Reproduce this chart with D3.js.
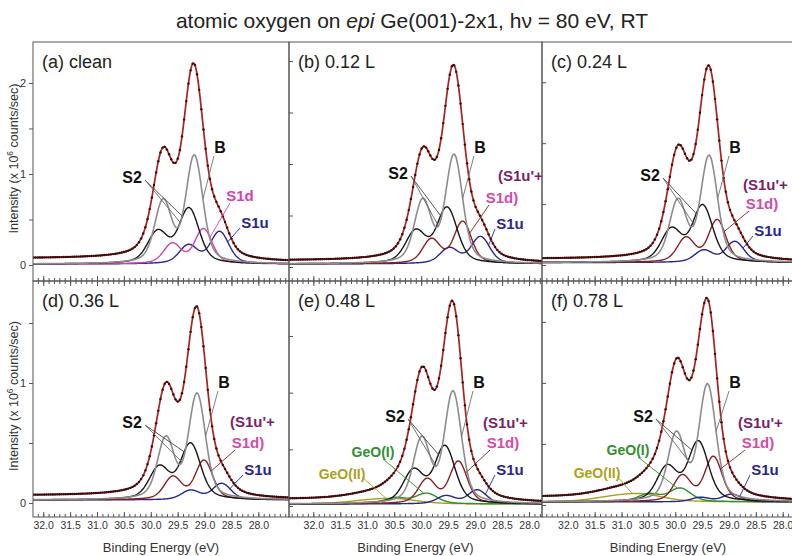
<!DOCTYPE html>
<html>
<head>
<meta charset="utf-8">
<script src="https://cdn.jsdelivr.net/npm/d3@7/dist/d3.min.js"></script>
<style>
  body { margin: 0; background: #fff; }
  svg text { font-family: "Liberation Sans", Arial, sans-serif; }
</style>
</head>
<body>
<svg id="chart" width="792" height="556"></svg>
<script>
// Panel titles (oxygen exposure)
const panelNames = ['(a) clean', '(b) 0.12 L', '(c) 0.24 L', '(d) 0.36 L', '(e) 0.48 L', '(f) 0.78 L'];

// Intensity range of each panel (each panel keeps its own units)
const yMin = [-0.176, -0.272, -0.262, -0.117, -0.194, -0.197];
const yMax = [2.45, 4.37, 3.66, 1.85, 3.97, 3.67];
const yTickStep = [0.5, 1, 1, 0.5, 1, 1];
const yLabelled = [true, false, false, true, false, false];

// Binding energy range of each column (reversed axis)
const beLeft = [32.19, 32.45, 32.48];
const beRight = [27.43, 27.76, 27.79];
const beTicks = [32.0, 31.5, 31.0, 30.5, 30.0, 29.5, 29.0, 28.5, 28.0];

// Fit components: Ge 3d5/2 position (eV) and height, one entry per panel
const bulkPos = [29.19, 29.39, 29.37, 29.14, 29.41, 29.40];
const bulkHeight = [1.17, 2.08, 1.72, 0.87, 1.95, 1.89];
const s2Pos = [29.29, 29.52, 29.49, 29.26, 29.56, 29.57];
const s2Height = [0.6, 1.07, 0.92, 0.46, 1.0, 0.97];
const s1dPos = [29.02, 29.23, 29.22, 29.01, 29.31, 29.29];
const s1dHeight = [0.38, 0.81, 0.69, 0.325, 0.74, 0.73];
const s1dNames = ['S1d', "(S1u'+S1d)", "(S1u'+S1d)", "(S1u'+S1d)", "(S1u'+S1d)", "(S1u'+S1d)"];
const s1uPos = [28.72, 28.90, 28.89, 28.68, 28.96, 28.95];
const s1uHeight = [0.35, 0.52, 0.34, 0.135, 0.245, 0.125];
const geo1Pos = [null, null, null, null, 29.90, 29.91];
const geo1Height = [0, 0, 0, 0, 0.185, 0.22];
const geo2Pos = [null, null, null, null, 30.45, 30.60];
const geo2Height = [0, 0, 0, 0, 0.08, 0.11];

// Line widths (FWHM, eV) of each component and the 3d spin-orbit doublet
const fwhm = { B: 0.35, S2: 0.42, S1d: 0.36, S1u: 0.38, GeO1: 0.45, GeO2: 0.9 };
const soSplit = 0.58;
const soRatio = 0.57;
const lorentzMix = 0.33;

// Background levels: component offset, high-BE and low-BE ends of the step
const baseLevel = [0.01, 0.06, 0.04, 0.025, 0.035, 0.05];
const bgLeft = [0.072, 0.125, 0.1, 0.062, 0.115, 0.125];
const bgRight = [0.03, 0.07, 0.05, 0.03, 0.05, 0.06];

// Layout
const colX = [33, 289, 542], colW = [256, 253, 252];
const rowY = [42, 281], rowH = [239, 236];

// label positions inside a panel (offset from panel top-left)
const labelB = [[187, 105], [191, 105], [193, 105], [191, 101], [190, 101], [193, 101]];
const labelS2 = [[99, 135], [109, 131], [108, 133], [99, 141], [106, 135], [101, 135]];
const labelOpen = [null, [209, 133], [201, 142], [197, 140], [194, 141], [196, 141]];
const labelS1d = [[207, 153], [213, 155], [220, 161], [215, 161], [214, 161], [216, 161]];
const labelS1u = [[222, 180], [221, 181], [226, 188], [225, 188], [221, 188], [223, 188]];
const labelGeo1 = [null, null, null, null, [84, 170], [86, 168]];
const labelGeo2 = [null, null, null, null, [53, 192], [55, 191]];

const colors = {
    total: '#a8231c', dots: '#3a0a0a', B: '#8c8c8c', S2: '#151515',
    S1dPink: '#d63fae', S1dBrown: '#8a1f1f', S1u: '#26268f',
    GeO1: '#2f8f2f', GeO2: '#ad9f1c', axis: '#555', text: '#333'
};

const svg = d3.select('#chart');

function lineShape(e, c, w) {
    const dg = (e - c) / w;
    const dl = (e - c) / (w * 1.3);
    return (1 - lorentzMix) * Math.exp(-4 * Math.LN2 * dg * dg) + lorentzMix / (1 + 4 * dl * dl);
}

function doublet(e, c) {
    return c.h * (lineShape(e, c.pos, c.w) + soRatio * lineShape(e, c.pos + soSplit, c.w));
}

// Title
const title = svg.append('text')
    .attr('x', 412).attr('y', 28)
    .attr('text-anchor', 'middle')
    .attr('font-size', 21)
    .attr('fill', '#222');
title.append('tspan').text('atomic oxygen on ');
title.append('tspan').attr('font-style', 'italic').text('epi');
title.append('tspan').text(' Ge(001)-2x1, h\u03bd = 80 eV, RT');

panelNames.forEach((name, i) => {
    const col = i % 3, row = Math.floor(i / 3);
    const x0 = colX[col], y0 = rowY[row], w = colW[col], h = rowH[row];

    const x = d3.scaleLinear().domain([beLeft[col], beRight[col]]).range([x0, x0 + w]);
    const y = d3.scaleLinear().domain([yMin[i], yMax[i]]).range([y0 + h, y0]);

    const clipId = 'clip' + i;
    svg.append('clipPath').attr('id', clipId)
        .append('rect').attr('x', x0).attr('y', y0).attr('width', w).attr('height', h);

    const g = svg.append('g');

    // Components of this panel
    const comps = [
        { key: 'GeO2', pos: geo2Pos[i], h: geo2Height[i], w: fwhm.GeO2, color: colors.GeO2 },
        { key: 'GeO1', pos: geo1Pos[i], h: geo1Height[i], w: fwhm.GeO1, color: colors.GeO1 },
        { key: 'S1u', pos: s1uPos[i], h: s1uHeight[i], w: fwhm.S1u, color: colors.S1u },
        { key: 'S1d', pos: s1dPos[i], h: s1dHeight[i], w: fwhm.S1d, color: i === 0 ? colors.S1dPink : colors.S1dBrown },
        { key: 'S2', pos: s2Pos[i], h: s2Height[i], w: fwhm.S2, color: colors.S2 },
        { key: 'B', pos: bulkPos[i], h: bulkHeight[i], w: fwhm.B, color: colors.B }
    ].filter(c => c.pos !== null);
    const byKey = {};
    comps.forEach(c => byKey[c.key] = c);

    // energy grid, low BE to high BE
    const lo = Math.min(beLeft[col], beRight[col]) - 0.05;
    const hi = Math.max(beLeft[col], beRight[col]) + 0.05;
    const n = Math.round((hi - lo) / 0.01);
    const energies = d3.range(n + 1).map(k => lo + k * 0.01);

    // Shirley-type step background from the summed components
    const peakSum = energies.map(e => d3.sum(comps, c => doublet(e, c)));
    const cum = d3.cumsum(peakSum);
    const cumTotal = cum[cum.length - 1];
    const total = energies.map((e, k) => ({
        e: e,
        v: peakSum[k] + bgRight[i] + (bgLeft[i] - bgRight[i]) * cum[k] / cumTotal
    }));

    const line = d3.line().x(d => x(d.e)).y(d => y(d.v));
    const plot = g.append('g').attr('clip-path', `url(#${clipId})`);

    comps.forEach(c => {
        plot.append('path')
            .datum(energies.map(e => ({ e: e, v: baseLevel[i] + doublet(e, c) })))
            .attr('d', line)
            .attr('fill', 'none')
            .attr('stroke', c.color)
            .attr('stroke-width', c.key === 'B' ? 1.6 : 1.4);
    });

    // measured spectrum (dots) with its fit envelope
    plot.append('path')
        .datum(total)
        .attr('d', line)
        .attr('fill', 'none')
        .attr('stroke', colors.total)
        .attr('stroke-width', 1.7);
    plot.selectAll('.dot')
        .data(total.filter((d, k) => k % 4 === 0))
        .enter()
        .append('circle')
        .attr('class', 'dot')
        .attr('cx', d => x(d.e))
        .attr('cy', d => y(d.v))
        .attr('r', 1.2)
        .attr('fill', colors.dots);

    // frame
    g.append('rect')
        .attr('x', x0).attr('y', y0).attr('width', w).attr('height', h)
        .attr('fill', 'none').attr('stroke', colors.axis).attr('stroke-width', 1);

    // x ticks: minor every 0.1 eV, major every 0.5 eV
    const minor = d3.range(275, 326).map(v => v / 10)
        .filter(v => v <= beLeft[col] && v >= beRight[col]);
    const addXAxis = (axisFn, yPos, withLabels) => {
        const ax = g.append('g').attr('transform', `translate(0,${yPos})`);
        ax.call(axisFn(x).tickValues(minor).tickSize(-3).tickFormat(''));
        const major = g.append('g').attr('transform', `translate(0,${yPos})`);
        major.call(axisFn(x).tickValues(beTicks).tickSize(-5).tickPadding(5)
            .tickFormat(withLabels ? d3.format('.1f') : ''));
        [ax, major].forEach(a => {
            a.select('.domain').remove();
            a.selectAll('line').attr('stroke', colors.axis);
            a.selectAll('text').attr('font-size', 10.5).attr('fill', colors.text)
                .attr('font-family', '"Liberation Sans", Arial, sans-serif');
        });
    };
    addXAxis(d3.axisBottom, y0 + h, row === 1);
    if (row === 1) addXAxis(d3.axisTop, y0, false);

    // y ticks
    const yTicks = d3.range(0, yMax[i] + 1e-9, yTickStep[i]);
    const yAx = g.append('g').attr('transform', `translate(${x0},0)`);
    if (yLabelled[i]) {
        yAx.call(d3.axisLeft(y).tickValues(yTicks).tickSize(4).tickPadding(3)
            .tickFormat(v => Number.isInteger(v) ? v : ''));
    } else {
        yAx.call(d3.axisLeft(y).tickValues(yTicks).tickSize(-4).tickFormat(''));
    }
    yAx.select('.domain').remove();
    yAx.selectAll('line').attr('stroke', colors.axis);
    yAx.selectAll('text').attr('font-size', 11).attr('fill', colors.text)
        .attr('font-family', '"Liberation Sans", Arial, sans-serif');

    // panel title
    g.append('text')
        .attr('x', x0 + 9).attr('y', y0 + 26)
        .attr('font-size', 18).attr('fill', '#222')
        .text(name);

    // axis titles
    if (row === 1) {
        g.append('text')
            .attr('x', x0 + w / 2).attr('y', 552)
            .attr('text-anchor', 'middle')
            .attr('font-size', 13).attr('fill', colors.text)
            .text('Binding Energy (eV)');
    }
    if (col === 0) {
        const yt = g.append('text')
            .attr('transform', `translate(18,${y0 + h / 2 - 3}) rotate(-90)`)
            .attr('text-anchor', 'middle')
            .attr('font-size', 12.5).attr('fill', colors.text);
        yt.append('tspan').text('Intensity (x 10');
        yt.append('tspan').attr('font-size', 8.5).attr('dy', -5).text('6');
        yt.append('tspan').attr('dy', 5).text(' counts/sec)');
    }

    // annotations
    const curveY = (c, e) => y(baseLevel[i] + doublet(e, c));
    const pointer = (from, c, e, color) => {
        g.append('line')
            .attr('x1', x0 + from[0]).attr('y1', y0 + from[1])
            .attr('x2', x(e)).attr('y2', curveY(c, e))
            .attr('stroke', color).attr('stroke-width', 0.9);
    };
    const label = (pos, text, color, opts = {}) => {
        g.append('text')
            .attr('x', x0 + pos[0]).attr('y', y0 + pos[1] + 5.5)
            .attr('text-anchor', opts.anchor || 'middle')
            .attr('font-size', opts.size || 15)
            .attr('font-weight', 'bold')
            .attr('font-family', opts.serif ? '"Liberation Serif", "Times New Roman", serif' : null)
            .attr('fill', color)
            .text(text);
    };

    const B = byKey.B, S2 = byKey.S2, S1d = byKey.S1d, S1u = byKey.S1u;
    pointer([labelB[i][0] - 6, labelB[i][1] + 9], B, B.pos - 0.16, '#6f6f6f');
    label(labelB[i], 'B', '#111', { size: 16 });

    pointer([labelS2[i][0] + 13, labelS2[i][1] + 3], S2, S2.pos + 0.12, '#444');
    pointer([labelS2[i][0] + 13, labelS2[i][1] + 3], B, S2.pos + 0.16, '#666');
    label(labelS2[i], 'S2', '#111', { size: 16 });

    if (i === 0) {
        pointer([labelS1d[i][0] - 10, labelS1d[i][1] + 8], S1d, S1d.pos - 0.12, colors.S1dPink);
        label(labelS1d[i], s1dNames[i], colors.S1dPink);
    } else {
        pointer([labelS1d[i][0] - 13, labelS1d[i][1] + 8], S1d, S1d.pos - 0.13, colors.S1dBrown);
        label(labelOpen[i], "(S1u'+", '#7a1f6a', { anchor: 'start' });
        label(labelS1d[i], 'S1d)', '#d64aa6');
    }

    pointer([labelS1u[i][0] - 15, labelS1u[i][1] + 6], S1u, S1u.pos - 0.15, colors.S1u);
    label(labelS1u[i], 'S1u', colors.S1u);

    if (byKey.GeO1) {
        pointer([labelGeo1[i][0] + 10, labelGeo1[i][1] + 8], byKey.GeO1, byKey.GeO1.pos + 0.05, colors.GeO1);
        label(labelGeo1[i], 'GeO(I)', colors.GeO1, { size: 14, serif: true });
    }
    if (byKey.GeO2) {
        pointer([labelGeo2[i][0] + 20, labelGeo2[i][1] + 4], byKey.GeO2, byKey.GeO2.pos + 0.2, colors.GeO2);
        label(labelGeo2[i], 'GeO(II)', colors.GeO2, { size: 14, serif: true });
    }
});
</script>
</body>
</html>
